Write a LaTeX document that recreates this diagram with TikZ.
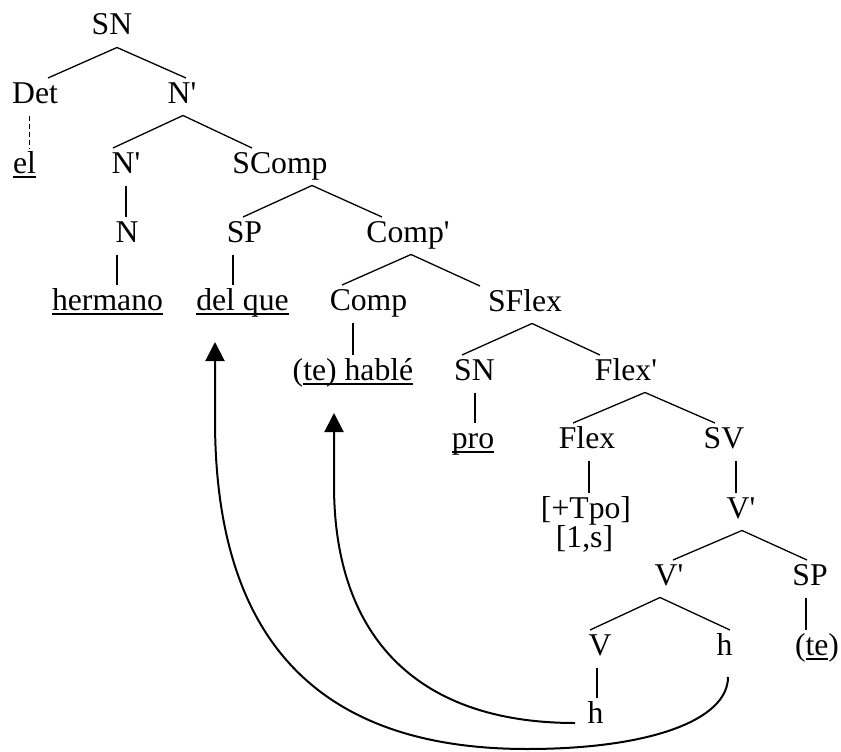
\documentclass[tikz,border=0pt]{standalone}
\usepackage{fontspec}
\setmainfont{Liberation Serif}
\usetikzlibrary{arrows.meta,calc}
\newcommand\primemark{\textquotesingle}
\newcommand\uln[1]{\setbox0\hbox{#1}\rlap{\rule[-4.5pt]{\wd0}{1.4pt}}\box0}
\begin{document}
\begin{tikzpicture}[x=1pt,y=-1pt,
  lbl/.style={anchor=base,inner sep=0pt,outer sep=0pt,text height=25pt,text depth=12.5pt,
    font=\fontsize{31.7pt}{36pt}\selectfont},
  br/.style={line width=1.3pt},
  mv/.style={line width=2pt,-{Triangle[length=19pt,width=19pt]}}]
\useasboundingbox (0,0) rectangle (841,752);
% nodes
\node[lbl] (SN0) at (112,35) {SN};
\node[lbl] (Det) at (35,103) {Det};
\node[lbl] (N1) at (182,103) {N\primemark};
\node[lbl] (el) at (24.5,173) {\uln{el}};
\node[lbl] (N2) at (126,173) {N\primemark};
\node[lbl] (SComp) at (280,173) {SComp};
\node[lbl] (N) at (127,242) {N};
\node[lbl] (SP1) at (244.5,242) {SP};
\node[lbl] (Compb) at (408,242) {Comp\primemark};
\node[lbl] (herm) at (107.5,310) {\uln{hermano}};
\node[lbl] (delque) at (242.5,310) {\uln{del que}};
\node[lbl] (Comp) at (368.5,310) {Comp};
\node[lbl] (SFlex) at (525,311) {SFlex};
\node[lbl] (hable) at (353,380) {(\uln{te) hablé}};
\node[lbl] (SN2) at (474.5,380) {SN};
\node[lbl] (Flexb) at (626,380) {Flex\primemark};
\node[lbl] (pro) at (473,448) {\uln{pro}};
\node[lbl] (Flex) at (587,448) {Flex};
\node[lbl] (SV) at (724,448) {SV};
\node[lbl] (Tpo) at (586,518) {[+Tpo]};
\node[lbl] (ps) at (584.5,547) {[1,s]};
\node[lbl] (Vb1) at (741,518) {V\primemark};
\node[lbl] (Vb2) at (669,585) {V\primemark};
\node[lbl] (SP2) at (810,585) {SP};
\node[lbl] (V) at (600,655) {V};
\node[lbl] (h1) at (724.5,655) {h};
\node[lbl] (te) at (817,655) {(\uln{te})};
\node[lbl] (h2) at (595.5,723) {h};
% branches
\draw[br] ([xshift=13]Det.north) -- ([xshift=5]SN0.south) -- ([xshift=4]N1.north);
\draw[br] ([xshift=-13]N2.north) -- ([xshift=1]N1.south) -- ([xshift=-28]SComp.north);
\draw[br] ([xshift=-1.5]SP1.north) -- ([xshift=32]SComp.south) -- ([xshift=-26]Compb.north);
\draw[br] ([xshift=-26.5]Comp.north) -- ([xshift=3]Compb.south) -- ([xshift=-45]SFlex.north);
\draw[br] ([xshift=-12.5]SN2.north) -- ([xshift=7]SFlex.south) -- ([xshift=-26]Flexb.north);
\draw[br] ([xshift=-14]Flex.north) -- ([xshift=19]Flexb.south) -- ([xshift=-9]SV.north);
\draw[br] ([xshift=4]Vb2.north) -- ([xshift=1]Vb1.south) -- ([xshift=-3]SP2.north);
\draw[br] ([xshift=-10]V.north) -- ([xshift=-9]Vb2.south) -- ([xshift=5.5]h1.north);
% verticals
\draw[line width=1pt,dash pattern=on 5pt off 3pt] ([xshift=-6]Det.south) -- ([xshift=4.5]el.north);
\draw[br] (N2.south) -- ([xshift=-1]N.north);
\draw[br] ([xshift=-10]N.south) -- ([xshift=9.5]herm.north);
\draw[br] ([xshift=-11.5]SP1.south) -- ([xshift=-9.5]delque.north);
\draw[br] ([xshift=-15.5]Comp.south) -- (hable.north);
\draw[br] ([xshift=0.5]SN2.south) -- ([xshift=2]pro.north);
\draw[br] ([xshift=2]Flex.south) -- ([xshift=3]Tpo.north);
\draw[br] ([xshift=12]SV.south) -- ([xshift=-5]Vb1.north);
\draw[br] ([xshift=-4]SP2.south) -- ([xshift=-11]te.north);
\draw[br] ([xshift=-3]V.south) -- ([xshift=1.5]h2.north);
% movement arrows
\draw[mv] ([shift={(3.5,22)}]h1.base) .. controls (728,720) and (650,749) .. (527,749)
  .. controls (300,749) and (215,620) .. (215,420) -- ([shift={(-27.5,32)}]delque.base);
\draw[mv] ([xshift=-20.5]h2.base) .. controls (420,723) and (334,640) .. (334,485)
  -- ([shift={(-19,33)}]hable.base);
\end{tikzpicture}
\end{document}
